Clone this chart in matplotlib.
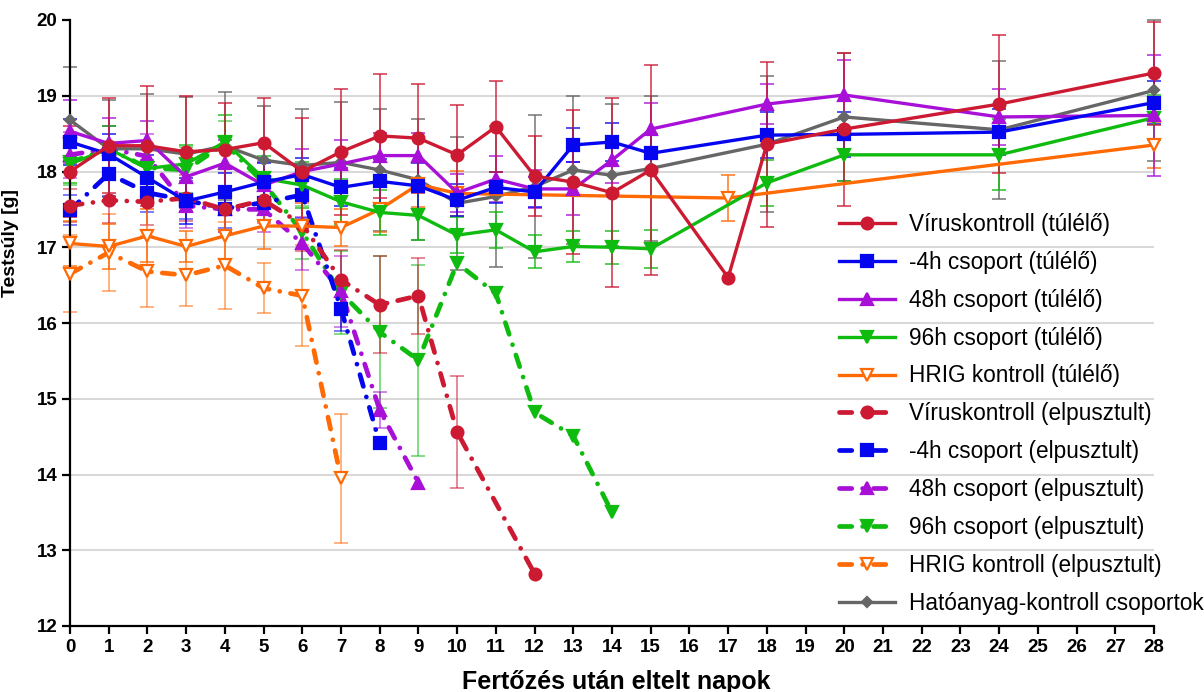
import numpy as np
import matplotlib
matplotlib.use("Agg")
import matplotlib.pyplot as plt

nan = np.nan

# --- Data: mean body weight (g) and SD per day ---
DAYS_FULL = [0, 1, 2, 3, 4, 5, 6, 7, 8, 9, 10, 11, 12, 13, 14, 15, 18, 20, 24, 28]
DAYS_VIRUS = [0, 1, 2, 3, 4, 5, 6, 7, 8, 9, 10, 11, 12, 13, 14, 15, 17, 18, 20, 24, 28]
DAYS_HRIG = [0, 1, 2, 3, 4, 5, 6, 7, 8, 9, 10, 17, 28]

VIRUS_SURV = [18.0, 18.34, 18.34, 18.26, 18.29, 18.38, 18.0, 18.26, 18.47, 18.44, 18.22,
              18.59, 17.94, 17.86, 17.72, 18.02, 16.6, 18.36, 18.56, 18.89, 19.30]
VIRUS_SURV_SD = [0.6, 0.63, 0.79, 0.74, 0.61, 0.59, 0.7, 0.83, 0.82, 0.72, 0.66,
                 0.6, 0.53, 0.95, 1.25, 1.38, nan, 1.09, 1.01, 0.91, 0.68]
M4H_SURV = [18.39, 18.23, 17.92, 17.61, 17.73, 17.86, 17.96, 17.79, 17.87, 17.81,
            17.62, 17.79, 17.73, 18.35, 18.39, 18.24, 18.48, 18.49, 18.52, 18.91]
M4H_SURV_SD = [0.3, 0.26, 0.3, 0.3, 0.25, 0.25, 0.22, 0.25, 0.3, 0.3,
               0.21, 0.2, 0.2, 0.23, 0.25, 0.25, 0.3, 0.3, 0.3, 0.28]
H48_SURV = [18.53, 18.37, 18.41, 17.93, 18.11, 17.82, 18.0, 18.10, 18.21, 18.21,
            17.72, 17.9, 17.77, 17.77, 18.15, 18.56, 18.89, 19.01, 18.72, 18.74]
H48_SURV_SD = [0.42, 0.33, 0.26, 0.35, 0.3, 0.3, 0.3, 0.32, 0.3, 0.3,
               0.25, 0.3, 0.25, 0.35, 0.3, 0.35, 0.26, 0.46, 0.37, 0.8]
H96_SURV = [18.1, 18.3, 18.04, 18.1, 18.39, 17.91, 17.82, 17.6, 17.46, 17.42,
            17.16, 17.23, 16.94, 17.01, 17.0, 16.98, 17.85, 18.22, 18.22, 18.71]
H96_SURV_SD = [0.25, 0.3, 0.3, 0.25, 0.35, 0.3, 0.3, 0.3, 0.3, 0.33,
               0.24, 0.24, 0.22, 0.2, 0.22, 0.25, 0.3, 0.34, 0.47, 0.3]
HRIG_SURV = [17.05, 17.01, 17.15, 17.01, 17.15, 17.28, 17.28, 17.26, 17.5, 17.83, 17.71, 17.65, 18.35]
HRIG_SURV_SD = [0.3, 0.3, 0.35, 0.2, 0.3, 0.3, 0.3, 0.25, 0.3, 0.3, 0.3, 0.3, 0.3]
CTRL = [18.68, 18.30, 18.30, 18.23, 18.34, 18.15, 18.08, 18.12, 18.02, 17.89,
        17.58, 17.67, 17.80, 18.02, 17.95, 18.04, 18.36, 18.72, 18.55, 19.07]
CTRL_SD = [0.7, 0.64, 0.72, 0.75, 0.71, 0.72, 0.74, 0.8, 0.8, 0.8,
           0.88, 0.93, 0.94, 0.98, 0.94, 0.96, 0.9, 0.85, 0.91, 0.93]

DAYS_VIRUS_DEAD = [0, 1, 2, 3, 4, 5, 6, 7, 8, 9, 10, 12]
VIRUS_DEAD = [17.55, 17.62, 17.6, 17.65, 17.5, 17.62, 17.3, 16.57, 16.24, 16.36, 14.56, 12.69]
VIRUS_DEAD_SD = [0.22, 0.3, 0.3, 0.3, 0.3, 0.3, 0.35, 0.4, 0.64, 0.5, 0.74, nan]
DAYS_M4H_DEAD = [0, 1, 2, 3, 4, 5, 6, 7, 8]
M4H_DEAD = [17.49, 17.97, 17.72, 17.62, 17.51, 17.59, 17.69, 16.19, 14.41]
M4H_DEAD_SD = [0.2, 0.3, 0.25, 0.25, 0.25, 0.25, 0.3, 0.3, nan]
DAYS_H48_DEAD = [0, 1, 2, 3, 4, 5, 6, 7, 8, 9]
H48_DEAD = [18.22, 18.3, 18.2, 17.55, 17.5, 17.5, 17.05, 16.42, 14.85, 13.89]
H48_DEAD_SD = [0.3, 0.3, 0.3, 0.3, 0.3, 0.3, 0.35, 0.47, 0.24, nan]
DAYS_H96_DEAD = [0, 1, 2, 3, 4, 5, 6, 7, 8, 9, 10, 11, 12, 13, 14]
H96_DEAD = [18.12, 18.3, 18.05, 18.02, 18.37, 17.85, 17.2, 16.4, 15.88, 15.51,
            16.79, 16.39, 14.82, 14.51, 13.5]
H96_DEAD_SD = [0.3, 0.3, 0.3, 0.3, 0.3, 0.3, 0.35, 0.55, 1.0, 1.26, nan, nan, nan, nan, nan]
DAYS_HRIG_DEAD = [0, 1, 2, 3, 4, 5, 6, 7]
HRIG_DEAD = [16.65, 16.93, 16.68, 16.63, 16.76, 16.46, 16.36, 13.95]
HRIG_DEAD_SD = [0.51, 0.51, 0.47, 0.4, 0.57, 0.33, 0.67, 0.85]

LABELS = ['Víruskontroll (túlélő)', '-4h csoport (túlélő)', '48h csoport (túlélő)',
          '96h csoport (túlélő)', 'HRIG kontroll (túlélő)',
          'Víruskontroll (elpusztult)', '-4h csoport (elpusztult)', '48h csoport (elpusztult)',
          '96h csoport (elpusztult)', 'HRIG kontroll (elpusztult)',
          'Hatóanyag-kontroll csoportok']

RED, BLUE, PURPLE, GREEN, ORANGE, GRAY = '#CC1A33', '#0505F0', '#A810D8', '#10BB10', '#FF6A05', '#666666'

plt.rcParams.update({
    'font.family': ['Liberation Sans', 'DejaVu Sans'],
    'axes.linewidth': 1.6,
})

DASH = (0, (2.6, 2.3, 0.01, 2.3))


def draw_series(ax, days, mean, sd, color, marker, dead=False, mfc=None):
    eb_alpha = 0.65 if dead else 0.9
    ax.errorbar(days, mean, yerr=sd, fmt='none', ecolor=color, elinewidth=1.1,
                capsize=5, capthick=1.1, alpha=eb_alpha, zorder=2, clip_on=False)
    ms = 8.5 if marker == 'o' else 8
    if dead:
        line, = ax.plot(days, mean, color=color, lw=3.4, linestyle=DASH,
                        dash_capstyle='round', marker=marker, ms=ms,
                        mfc=mfc if mfc else color, mec=color, mew=1.6,
                        zorder=3, clip_on=False)
    else:
        line, = ax.plot(days, mean, color=color, lw=2.4, marker=marker, ms=ms,
                        mfc=mfc if mfc else color, mec=color, mew=1.6,
                        zorder=4, clip_on=False)
    return line


fig = plt.figure(figsize=(12.04, 6.92), dpi=100)
ax = fig.add_axes([70 / 1204, 1 - 626 / 692, 1084 / 1204, 606 / 692])

handles = {}
handles[10] = draw_series(ax, DAYS_FULL, CTRL, CTRL_SD, GRAY, 'D')
handles[10].set_markersize(5)
handles[9] = draw_series(ax, DAYS_HRIG_DEAD, HRIG_DEAD, HRIG_DEAD_SD, ORANGE, 'v', dead=True, mfc='white')
handles[8] = draw_series(ax, DAYS_H96_DEAD, H96_DEAD, H96_DEAD_SD, GREEN, 'v', dead=True)
handles[7] = draw_series(ax, DAYS_H48_DEAD, H48_DEAD, H48_DEAD_SD, PURPLE, '^', dead=True)
handles[6] = draw_series(ax, DAYS_M4H_DEAD, M4H_DEAD, M4H_DEAD_SD, BLUE, 's', dead=True)
handles[5] = draw_series(ax, DAYS_VIRUS_DEAD, VIRUS_DEAD, VIRUS_DEAD_SD, RED, 'o', dead=True)
handles[4] = draw_series(ax, DAYS_HRIG, HRIG_SURV, HRIG_SURV_SD, ORANGE, 'v', mfc='white')
handles[3] = draw_series(ax, DAYS_FULL, H96_SURV, H96_SURV_SD, GREEN, 'v')
handles[2] = draw_series(ax, DAYS_FULL, H48_SURV, H48_SURV_SD, PURPLE, '^')
handles[1] = draw_series(ax, DAYS_FULL, M4H_SURV, M4H_SURV_SD, BLUE, 's')
handles[0] = draw_series(ax, DAYS_VIRUS, VIRUS_SURV, VIRUS_SURV_SD, RED, 'o')

ax.set_xlim(0, 28)
ax.set_ylim(12, 20)
ax.set_xticks(range(0, 29))
ax.set_yticks(range(12, 21))
for v in range(13, 20):
    ax.axhline(v, color='#d9d9d9', lw=1.5, zorder=0)
for s in ('top', 'right'):
    ax.spines[s].set_visible(False)
ax.tick_params(axis='both', direction='out', length=6, width=1.6, labelsize=13.5, pad=3)
for lbl in ax.get_xticklabels() + ax.get_yticklabels():
    lbl.set_fontweight('bold')

ax.set_xlabel('Fertőzés után eltelt napok', fontsize=18, fontweight='bold')
ax.xaxis.set_label_coords(0.504, -0.072)
ax.set_ylabel('Testsúly [g]', fontsize=14, fontweight='bold')
ax.yaxis.set_label_coords(-0.047, 0.632)

leg = ax.legend([handles[i] for i in range(11)], LABELS, loc='upper left',
                bbox_to_anchor=(0.709, 0.682), frameon=False, fontsize=16.3,
                handlelength=2.5, handletextpad=0.6, labelspacing=0.66,
                borderpad=0, borderaxespad=0, numpoints=1)

fig.savefig('out.png', dpi=100)
